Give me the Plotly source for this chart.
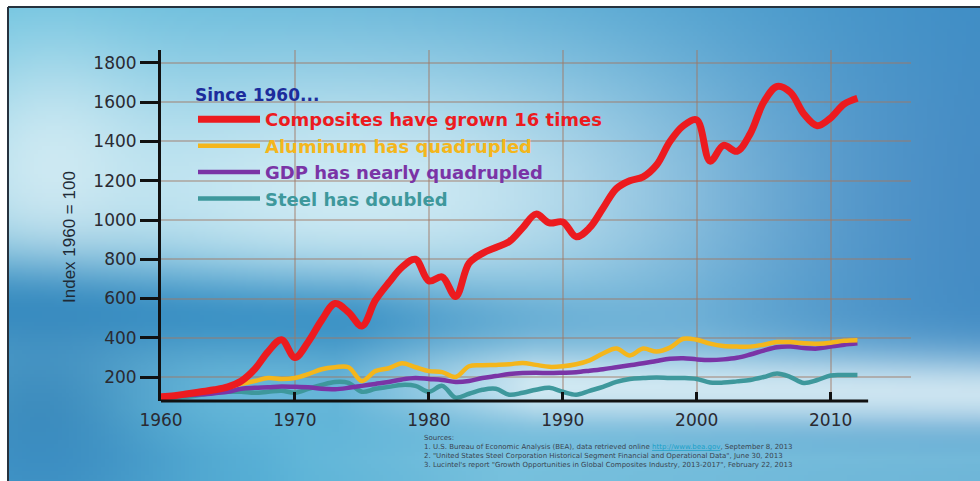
import base64, struct, zlib
import numpy as np
import plotly.graph_objects as go

# ---------------- data ----------------
years = list(range(1960, 2013))
composites = [100, 105, 115, 125, 135, 150, 180, 240, 330, 390,
              300, 380, 490, 575, 530, 460, 590, 680, 760, 800,
              690, 710, 610, 780, 830, 860, 890, 960, 1030, 985,
              990, 915, 960, 1060, 1160, 1200, 1220, 1280, 1400, 1480,
              1510, 1300, 1380, 1350, 1440, 1600, 1680, 1650, 1540, 1480,
              1520, 1590, 1620]
aluminum = [100, 108, 115, 125, 135, 150, 165, 180, 195, 190,
            195, 215, 240, 250, 250, 180, 230, 245, 270, 250,
            230, 225, 200, 255, 260, 262, 265, 272, 262, 252,
            255, 265, 285, 320, 345, 310, 345, 330, 350, 395,
            390, 370, 358, 355, 355, 365, 378, 378, 372, 370,
            375, 385, 388]
gdp = [100, 102, 108, 112, 118, 125, 140, 145, 148, 152,
       150, 148, 140, 138, 145, 155, 165, 175, 188, 195,
       190, 185, 175, 180, 195, 205, 215, 220, 222, 220,
       222, 225, 232, 240, 250, 260, 270, 282, 293, 296,
       290, 287, 290, 298, 315, 335, 352, 355, 348, 345,
       355, 365, 372]
steel = [100, 95, 100, 110, 120, 125, 125, 120, 125, 130,
         120, 140, 160, 175, 170, 125, 140, 150, 160, 155,
         125, 155, 95, 115, 135, 140, 110, 120, 135, 145,
         125, 110, 130, 150, 175, 190, 195, 198, 195, 195,
         190, 172, 172, 178, 185, 200, 218, 200, 170, 185,
         208, 210, 210]

series_names = ["Composites have grown 16 times", "Aluminum has quadrupled",
                "GDP has nearly quadrupled", "Steel has doubled"]
y_ticks = [200, 400, 600, 800, 1000, 1200, 1400, 1600, 1800]
x_ticks = [1960, 1970, 1980, 1990, 2000, 2010]

sources = ["Sources:",
           "1. U.S. Bureau of Economic Analysis (BEA), data retrieved online "
           "<span style='color:#1aa0c8'><u>http://www.bea.gov</u></span>, September 8, 2013",
           "2. \"United States Steel Corporation Historical Segment Financial and Operational Data\", June 30, 2013",
           "3. Lucintel's report \"Growth Opportunities in Global Composites Industry, 2013-2017\", February 22, 2013"]

# ---------------- layout geometry ----------------
W, H = 980, 481
ML, MR, MT, MB = 161, 69, 50, 80
PW, PH = W - ML - MR, H - MT - MB


def px(x):
    return (x - ML) / PW


def py(y):
    return (H - MB - y) / PH


# ---------------- background picture (decoration) ----------------
def hexrgb(h):
    h = h.lstrip('#')
    return np.array([int(h[i:i + 2], 16) for i in (0, 2, 4)], dtype=float)


def background():
    step = 4
    gx = np.arange(0, W, step) + step / 2
    gy = np.arange(0, H, step) + step / 2
    X, Y = np.meshgrid(gx, gy)
    t = (X / W)[..., None]
    img = hexrgb('#5fbddc') * (1 - t) + hexrgb('#3d92c8') * t

    def blend(img, w, col):
        w = np.clip(w, 0, 1)[..., None]
        return img * (1 - w) + hexrgb(col) * w

    def g(cx, cy, sx, sy):
        return np.exp(-((X - cx) ** 2 / (2 * sx ** 2) + (Y - cy) ** 2 / (2 * sy ** 2)))

    # big light area upper middle
    img = blend(img, 0.9 * g(360, 190, 330, 115), '#dcf1f7')
    img = blend(img, 0.7 * g(40, 170, 70, 90), '#e2f2f7')
    # right medium-dark area
    img = blend(img, 0.55 * g(980, 200, 200, 170), '#3a7cbc')
    # dark diagonal band lower-left
    x0, y0, x1, y1 = 60, 310, 560, 330
    d = np.abs((y1 - y0) * X - (x1 - x0) * Y + x1 * y0 - y1 * x0) / np.hypot(x1 - x0, y1 - y0)
    fade = np.clip((700 - X) / 350, 0, 1)
    img = blend(img, 0.8 * np.exp(-d ** 2 / (2 * 36 ** 2)) * fade, '#2a86bf')
    img = blend(img, 0.75 * g(30, 420, 90, 90), '#2f7cb4')
    # light streak lower right
    x0, y0, x1, y1 = 380, 385, 990, 395
    d = np.abs((y1 - y0) * X - (x1 - x0) * Y + x1 * y0 - y1 * x0) / np.hypot(x1 - x0, y1 - y0)
    ramp = np.clip((X - 330) / 200, 0, 1)
    img = blend(img, 0.85 * np.exp(-d ** 2 / (2 * 30 ** 2)) * ramp, '#e4f3f8')
    # bottom band
    img = blend(img, 0.6 * np.clip((Y - 420) / 40, 0, 1) * np.clip((X - 250) / 250, 0, 1), '#8fd0e4')
    img = blend(img, 0.5 * np.clip((Y - 410) / 50, 0, 1) * np.clip((300 - X) / 250, 0, 1), '#3a8cc4')
    arr = np.clip(img, 0, 255).astype(np.uint8)
    h, w = arr.shape[:2]
    raw = b''.join(b'\x00' + arr[i].tobytes() for i in range(h))

    def chunk(tag, data):
        return (struct.pack('>I', len(data)) + tag + data +
                struct.pack('>I', zlib.crc32(tag + data) & 0xffffffff))

    png = (b'\x89PNG\r\n\x1a\n' +
           chunk(b'IHDR', struct.pack('>IIBBBBB', w, h, 8, 2, 0, 0, 0)) +
           chunk(b'IDAT', zlib.compress(raw, 9)) + chunk(b'IEND', b''))
    return 'data:image/png;base64,' + base64.b64encode(png).decode()


# ---------------- figure ----------------
fig = go.Figure()
colors = ['#ec1b1f', '#f4b61c', '#7a34a6', '#3e989c']
widths = [7, 4.5, 4.5, 4.5]
values = [composites, aluminum, gdp, steel]
order = [3, 2, 1, 0]
for i in order:
    fig.add_trace(go.Scatter(
        x=years, y=values[i], mode='lines',
        line=dict(color=colors[i], width=widths[i], shape='spline', smoothing=1.0),
        name="<b><span style='color:%s'>%s</span></b>" % (colors[i], series_names[i]),
        legendgroup=str(i), legendrank=i + 1, hoverinfo='x+y'))

fig.update_layout(
    width=W, height=H,
    margin=dict(l=ML, r=MR, t=MT, b=MB),
    paper_bgcolor='white',
    plot_bgcolor='rgba(0,0,0,0)',
    font=dict(family='DejaVu Sans', color='#2a2a32'),
    showlegend=True,
    legend=dict(
        x=px(193), y=py(79), xanchor='left', yanchor='top',
        bgcolor='rgba(0,0,0,0)', borderwidth=0,
        font=dict(family='DejaVu Sans', size=18),
        title=dict(text="<b>Since 1960...</b>",
                   font=dict(family='DejaVu Sans', size=17, color='#1c2c9c')),
        tracegroupgap=1, itemwidth=62, traceorder='normal'),
    xaxis=dict(range=[1960, 2016], tickvals=x_ticks, ticktext=[str(v) for v in x_ticks],
               ticks='inside', ticklen=9, tickwidth=2.5, tickcolor='#111',
               showline=False, zeroline=False, ticklabelstandoff=7,
               showgrid=True, gridcolor='rgba(160,120,100,0.45)', gridwidth=1.5,
               tickfont=dict(size=17, family='DejaVu Sans', color='#2a2a32')),
    yaxis=dict(range=[78, 1866], tickvals=y_ticks, ticktext=[str(v) for v in y_ticks],
               ticks='outside', ticklen=18, tickwidth=2.5, tickcolor='#111',
               showline=True, linecolor='#111', linewidth=3, ticklabelstandoff=0,
               zeroline=False, showgrid=True,
               gridcolor='rgba(160,120,100,0.45)', gridwidth=1.5,
               tickfont=dict(size=17, family='DejaVu Sans', color='#2a2a32')),
    images=[dict(source=background(), xref='paper', yref='paper',
                 x=px(8), y=py(7), sizex=(W - 8) / PW, sizey=(H - 7) / PH,
                 xanchor='left', yanchor='top', sizing='stretch', layer='below')],
    shapes=[
        dict(type='line', xref='x', yref='paper', x0=1960, x1=2012.8, y0=0, y1=0,
             line=dict(color='#111', width=3)),
        dict(type='line', xref='paper', yref='paper', x0=px(8), x1=px(W), y0=py(7), y1=py(7),
             line=dict(color='#26323e', width=2)),
        dict(type='line', xref='paper', yref='paper', x0=px(8), x1=px(8), y0=py(7), y1=py(H),
             line=dict(color='#26323e', width=2)),
    ],
    annotations=[
        dict(text='Index 1960 = 100', textangle=-90, xref='paper', yref='paper',
             x=px(70), y=py(237), xanchor='center', yanchor='middle', showarrow=False,
             font=dict(family='Liberation Sans Narrow, Arial Narrow, sans-serif', size=17,
                       color='#1e2a36')),
        dict(text='<br>'.join(sources), xref='paper', yref='paper', x=px(422), y=py(432),
             xanchor='left', yanchor='top', align='left', showarrow=False,
             font=dict(family='DejaVu Sans', size=7, color='#3a4450')),
    ],
)

fig.write_html('out.html')
